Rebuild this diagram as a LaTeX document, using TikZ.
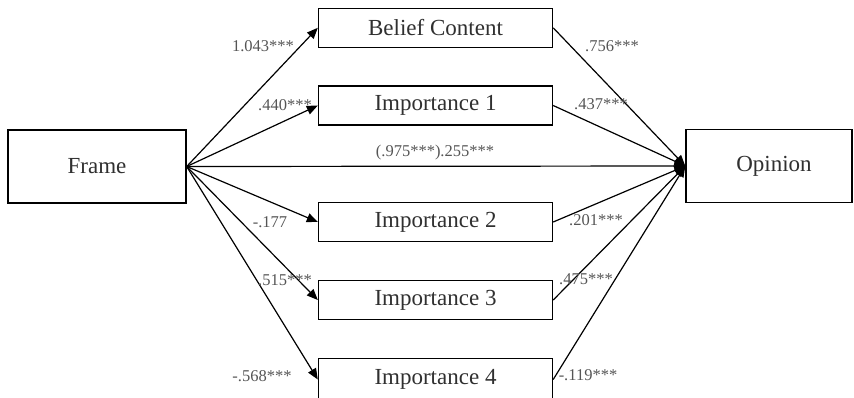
\documentclass[tikz,border=0pt]{standalone}
\usepackage{fontspec}
\setmainfont{Liberation Serif}
\usetikzlibrary{arrows.meta}
\definecolor{boxtext}{HTML}{303030}
\definecolor{labtext}{HTML}{555555}
\tikzset{
  varbox/.style={draw=black, line width=1.4pt, fill=white, inner sep=0pt,
    font=\fontsize{23}{26}\selectfont, text=boxtext},
  midbox/.style={varbox, minimum width=234pt, minimum height=39pt},
  endbox/.style={varbox, minimum width=178pt, minimum height=73pt},
  path/.style={draw=black, line width=1.2pt, -{Triangle[length=11pt,width=9pt]}},
  coef/.style={font=\fontsize{16.5}{18}\selectfont, text=labtext, inner sep=0pt}
}
\begin{document}
\begin{tikzpicture}[x=1pt,y=-1pt]
\useasboundingbox (0,0) rectangle (854,397);
\clip (0,0) rectangle (854,397);
\node[endbox] (frame) at (97,166.5) {Frame};
\node[endbox, minimum width=166pt] (opinion) at (769,166) {\hspace{10pt}Opinion};
\node[midbox] (belief) at (435.5,27.8) {Belief Content};
\node[midbox] (imp1) at (435.5,105.5) {Importance 1};
\node[midbox] (imp2) at (435.5,222) {Importance 2};
\node[midbox] (imp3) at (435.5,300) {Importance 3};
\node[midbox, minimum height=42pt] (imp4) at (435.5,379.5) {Importance 4};
% Frame to mediators
\draw[path] (frame.east) -- (belief.west);
\draw[path] (frame.east) -- (imp1.west);
\draw[path] (frame.east) -- (imp2.west);
\draw[path] (frame.east) -- (imp3.west);
\draw[path] (frame.east) -- (imp4.west);
% direct
\draw[path] (frame.east) -- (opinion.west);
% mediators to Opinion
\draw[path] (belief.east) -- (opinion.west);
\draw[path] (imp1.east) -- (opinion.west);
\draw[path] (imp2.east) -- (opinion.west);
\draw[path] (imp3.east) -- (opinion.west);
\draw[path] (imp4.east) -- (opinion.west);
% labels
\node[coef] (l1) at (263,46) {1.043***};
\node[coef] (l2) at (285,105) {.440***};
\node[coef] (l3) at (270,222) {-.177};
\node[coef] (l4) at (285,280) {.515***};
\node[coef] (l5) at (262,376) {-.568***};
\node[coef] (l6) at (435,152.5) {(.975***).255***};
\node[coef] (r1) at (612,46) {.756***};
\node[coef] (r2) at (601,104) {.437***};
\node[coef] (r3) at (596,220) {.201***};
\node[coef] (r4) at (586,279) {.475***};
\node[coef] (r5) at (588,375) {-.119***};
\end{tikzpicture}
\end{document}
